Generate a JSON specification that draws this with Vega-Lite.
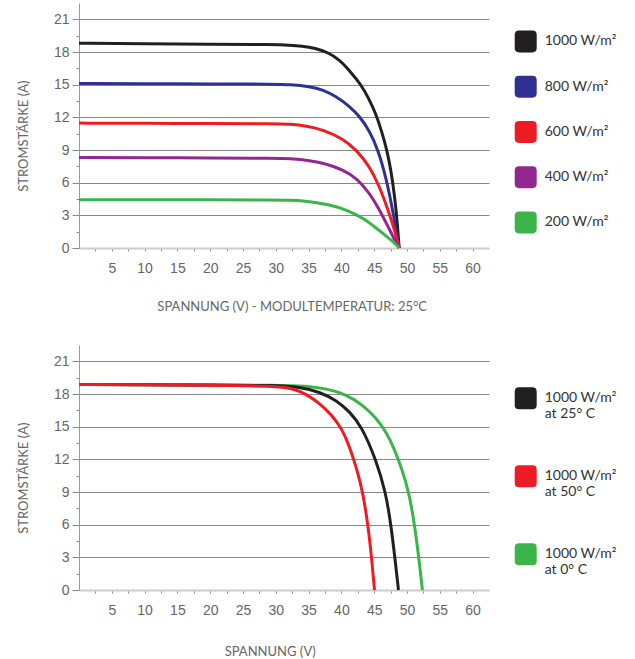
{
  "$schema": "https://vega.github.io/schema/vega-lite/v6.json",
  "padding": {"left": 17, "top": 3, "right": 5, "bottom": 5},
  "spacing": 31,
  "config": {
    "view": {"stroke": null},
    "font": "Lato",
    "axisX": {
      "tickSize": 3, "tickColor": "#888", "labelPadding": 10,
      "labelFont": "Liberation Sans", "labelFontSize": 14, "labelColor": "#666",
      "domainColor": "#cccccc", "domainWidth": 2, "grid": false,
      "titleFont": "Lato", "titleFontSize": 13, "titleFontWeight": "normal", "titleColor": "#666", "titleBaseline": "alphabetic"
    },
    "axisY": {
      "tickColor": "#888", "labelPadding": 3,
      "labelFont": "Liberation Sans", "labelFontSize": 14, "labelColor": "#666",
      "domainColor": "#999", "domainWidth": 1, "grid": true, "gridColor": "#888",
      "titleFont": "Lato", "titleFontSize": 13, "titleFontWeight": "normal", "titleColor": "#666",
      "titleX": -56, "titleY": 132.7, "titleBaseline": "middle"
    }
  },
  "resolve": {"scale": {"color": "independent"}},
  "vconcat": [
    {
      "name": "top",
      "width": 410,
      "height": 245,
      "data": {"values": [
        {"s": "1000 W/m²", "V": 0, "I": 18.8}, {"s": "1000 W/m²", "V": 10, "I": 18.76}, {"s": "1000 W/m²", "V": 20, "I": 18.72}, {"s": "1000 W/m²", "V": 30, "I": 18.68}, {"s": "1000 W/m²", "V": 32, "I": 18.63}, {"s": "1000 W/m²", "V": 34, "I": 18.55}, {"s": "1000 W/m²", "V": 36, "I": 18.36}, {"s": "1000 W/m²", "V": 38, "I": 17.95}, {"s": "1000 W/m²", "V": 39.7, "I": 17.3}, {"s": "1000 W/m²", "V": 41.3, "I": 16.25}, {"s": "1000 W/m²", "V": 43.0, "I": 15.0}, {"s": "1000 W/m²", "V": 44.2, "I": 13.7}, {"s": "1000 W/m²", "V": 45.2, "I": 12.4}, {"s": "1000 W/m²", "V": 46.1, "I": 10.8}, {"s": "1000 W/m²", "V": 46.9, "I": 9.1}, {"s": "1000 W/m²", "V": 47.6, "I": 7.0}, {"s": "1000 W/m²", "V": 48.1, "I": 4.8}, {"s": "1000 W/m²", "V": 48.5, "I": 2.5}, {"s": "1000 W/m²", "V": 48.8, "I": 0},
        {"s": "800 W/m²", "V": 0, "I": 15.1}, {"s": "800 W/m²", "V": 10, "I": 15.08}, {"s": "800 W/m²", "V": 20, "I": 15.07}, {"s": "800 W/m²", "V": 30, "I": 15.05}, {"s": "800 W/m²", "V": 32.1, "I": 15.02}, {"s": "800 W/m²", "V": 35.2, "I": 14.83}, {"s": "800 W/m²", "V": 37.2, "I": 14.52}, {"s": "800 W/m²", "V": 39.2, "I": 13.91}, {"s": "800 W/m²", "V": 41.3, "I": 12.99}, {"s": "800 W/m²", "V": 42.8, "I": 12.07}, {"s": "800 W/m²", "V": 44.3, "I": 10.75}, {"s": "800 W/m²", "V": 45.6, "I": 9.02}, {"s": "800 W/m²", "V": 46.9, "I": 6.27}, {"s": "800 W/m²", "V": 47.9, "I": 3.21}, {"s": "800 W/m²", "V": 48.8, "I": 0},
        {"s": "600 W/m²", "V": 0, "I": 11.47}, {"s": "600 W/m²", "V": 10, "I": 11.45}, {"s": "600 W/m²", "V": 20, "I": 11.44}, {"s": "600 W/m²", "V": 30, "I": 11.42}, {"s": "600 W/m²", "V": 32.1, "I": 11.38}, {"s": "600 W/m²", "V": 34.7, "I": 11.2}, {"s": "600 W/m²", "V": 37.2, "I": 10.85}, {"s": "600 W/m²", "V": 40.2, "I": 10.05}, {"s": "600 W/m²", "V": 42.3, "I": 9.0}, {"s": "600 W/m²", "V": 44.3, "I": 7.49}, {"s": "600 W/m²", "V": 45.8, "I": 5.65}, {"s": "600 W/m²", "V": 47.1, "I": 3.51}, {"s": "600 W/m²", "V": 48.1, "I": 1.68}, {"s": "600 W/m²", "V": 48.8, "I": 0},
        {"s": "400 W/m²", "V": 0, "I": 8.31}, {"s": "400 W/m²", "V": 10, "I": 8.29}, {"s": "400 W/m²", "V": 20, "I": 8.27}, {"s": "400 W/m²", "V": 30, "I": 8.25}, {"s": "400 W/m²", "V": 32.1, "I": 8.22}, {"s": "400 W/m²", "V": 35.2, "I": 8.04}, {"s": "400 W/m²", "V": 37.7, "I": 7.73}, {"s": "400 W/m²", "V": 40.2, "I": 7.18}, {"s": "400 W/m²", "V": 42.3, "I": 6.42}, {"s": "400 W/m²", "V": 44.3, "I": 5.05}, {"s": "400 W/m²", "V": 45.8, "I": 3.51}, {"s": "400 W/m²", "V": 47.1, "I": 1.98}, {"s": "400 W/m²", "V": 48.1, "I": 0.76}, {"s": "400 W/m²", "V": 48.8, "I": 0},
        {"s": "200 W/m²", "V": 0, "I": 4.43}, {"s": "200 W/m²", "V": 10, "I": 4.43}, {"s": "200 W/m²", "V": 20, "I": 4.42}, {"s": "200 W/m²", "V": 30, "I": 4.42}, {"s": "200 W/m²", "V": 32.1, "I": 4.4}, {"s": "200 W/m²", "V": 35.2, "I": 4.28}, {"s": "200 W/m²", "V": 38.2, "I": 3.97}, {"s": "200 W/m²", "V": 40.8, "I": 3.51}, {"s": "200 W/m²", "V": 43.3, "I": 2.75}, {"s": "200 W/m²", "V": 45.3, "I": 1.83}, {"s": "200 W/m²", "V": 46.9, "I": 1.06}, {"s": "200 W/m²", "V": 48.1, "I": 0.46}, {"s": "200 W/m²", "V": 48.8, "I": 0}
      ]},
      "mark": {"type": "line", "interpolate": "basis", "strokeWidth": 3},
      "encoding": {
        "x": {"field": "V", "type": "quantitative", "scale": {"domain": [0, 62.5], "nice": false, "zero": false},
          "axis": {"title": "SPANNUNG (V) - MODULTEMPERATUR: 25°C", "titleX": 212.7, "titleY": 62.7,
            "values": [2.5, 5, 7.5, 10, 12.5, 15, 17.5, 20, 22.5, 25, 27.5, 30, 32.5, 35, 37.5, 40, 42.5, 45, 47.5, 50, 52.5, 55, 57.5, 60],
            "labelExpr": "datum.value % 5 === 0 ? datum.label : ''"}},
        "y": {"field": "I", "type": "quantitative", "scale": {"domain": [0, 22.5], "nice": false},
          "axis": {"title": "STROMSTÄRKE (A)",
            "values": [0, 1.5, 3, 4.5, 6, 7.5, 9, 10.5, 12, 13.5, 15, 16.5, 18, 19.5, 21],
            "labelExpr": "datum.value % 3 === 0 ? datum.label : ''",
            "tickSize": {"condition": {"test": "datum.value % 3 === 0", "value": 7}, "value": 3},
            "gridOpacity": {"condition": {"test": "datum.value % 3 === 0 && datum.value > 0", "value": 1}, "value": 0}}},
        "color": {"field": "s", "type": "nominal",
          "scale": {"domain": ["1000 W/m²", "800 W/m²", "600 W/m²", "400 W/m²", "200 W/m²"], "range": ["#231f20", "#2e3192", "#ed1c24", "#92278f", "#39b54a"]},
          "legend": {"title": null, "orient": "none", "legendX": 435.7, "legendY": 27.4, "padding": 0,
            "symbolType": "M -1 -0.6 Q -1 -1 -0.6 -1 L 0.6 -1 Q 1 -1 1 -0.6 L 1 0.6 Q 1 1 0.6 1 L -0.6 1 Q -1 1 -1 0.6 Z",
            "symbolSize": 484, "symbolStrokeWidth": 0, "rowPadding": 23.25, "labelFont": "Lato", "labelFontSize": 14, "labelColor": "#333", "labelOffset": 8,
            "encode": {"symbols": {"update": {"fill": {"scale": "top_color", "field": "value"}, "fillOpacity": {"value": 1}, "strokeWidth": {"value": 0}}}}}
        }
      }
    },
    {
      "name": "bottom",
      "width": 410,
      "height": 245,
      "data": {"values": [
        {"s": "1000 W/m²|at 0° C", "V": 0, "I": 18.87}, {"s": "1000 W/m²|at 0° C", "V": 10, "I": 18.85}, {"s": "1000 W/m²|at 0° C", "V": 20, "I": 18.83}, {"s": "1000 W/m²|at 0° C", "V": 30, "I": 18.82}, {"s": "1000 W/m²|at 0° C", "V": 34.7, "I": 18.74}, {"s": "1000 W/m²|at 0° C", "V": 37.7, "I": 18.5}, {"s": "1000 W/m²|at 0° C", "V": 40.8, "I": 17.95}, {"s": "1000 W/m²|at 0° C", "V": 43.3, "I": 16.97}, {"s": "1000 W/m²|at 0° C", "V": 45.3, "I": 15.8}, {"s": "1000 W/m²|at 0° C", "V": 46.9, "I": 14.45}, {"s": "1000 W/m²|at 0° C", "V": 48.1, "I": 12.9}, {"s": "1000 W/m²|at 0° C", "V": 49.1, "I": 11.33}, {"s": "1000 W/m²|at 0° C", "V": 50.3, "I": 9.0}, {"s": "1000 W/m²|at 0° C", "V": 51.15, "I": 6.0}, {"s": "1000 W/m²|at 0° C", "V": 51.8, "I": 3.0}, {"s": "1000 W/m²|at 0° C", "V": 52.35, "I": 0},
        {"s": "1000 W/m²|at 25° C", "V": 0, "I": 18.87}, {"s": "1000 W/m²|at 25° C", "V": 10, "I": 18.85}, {"s": "1000 W/m²|at 25° C", "V": 20, "I": 18.82}, {"s": "1000 W/m²|at 25° C", "V": 30, "I": 18.79}, {"s": "1000 W/m²|at 25° C", "V": 33.6, "I": 18.65}, {"s": "1000 W/m²|at 25° C", "V": 36.7, "I": 18.19}, {"s": "1000 W/m²|at 25° C", "V": 39.2, "I": 17.43}, {"s": "1000 W/m²|at 25° C", "V": 41.3, "I": 16.36}, {"s": "1000 W/m²|at 25° C", "V": 43.1, "I": 15.0}, {"s": "1000 W/m²|at 25° C", "V": 45.25, "I": 12.0}, {"s": "1000 W/m²|at 25° C", "V": 46.75, "I": 9.0}, {"s": "1000 W/m²|at 25° C", "V": 47.55, "I": 6.0}, {"s": "1000 W/m²|at 25° C", "V": 48.15, "I": 3.0}, {"s": "1000 W/m²|at 25° C", "V": 48.7, "I": 0},
        {"s": "1000 W/m²|at 50° C", "V": 0, "I": 18.87}, {"s": "1000 W/m²|at 50° C", "V": 10, "I": 18.84}, {"s": "1000 W/m²|at 50° C", "V": 20, "I": 18.8}, {"s": "1000 W/m²|at 50° C", "V": 30, "I": 18.74}, {"s": "1000 W/m²|at 50° C", "V": 32.6, "I": 18.5}, {"s": "1000 W/m²|at 50° C", "V": 34.7, "I": 17.98}, {"s": "1000 W/m²|at 50° C", "V": 36.7, "I": 17.13}, {"s": "1000 W/m²|at 50° C", "V": 38.5, "I": 16.1}, {"s": "1000 W/m²|at 50° C", "V": 40.1, "I": 14.8}, {"s": "1000 W/m²|at 50° C", "V": 41.2, "I": 13.2}, {"s": "1000 W/m²|at 50° C", "V": 41.85, "I": 12.0}, {"s": "1000 W/m²|at 50° C", "V": 42.4, "I": 11.0}, {"s": "1000 W/m²|at 50° C", "V": 43.25, "I": 9.0}, {"s": "1000 W/m²|at 50° C", "V": 44.05, "I": 6.0}, {"s": "1000 W/m²|at 50° C", "V": 44.6, "I": 3.0}, {"s": "1000 W/m²|at 50° C", "V": 45.05, "I": 0}
      ]},
      "mark": {"type": "line", "interpolate": "basis", "strokeWidth": 3},
      "encoding": {
        "x": {"field": "V", "type": "quantitative", "scale": {"domain": [0, 62.5], "nice": false, "zero": false},
          "axis": {"title": "SPANNUNG (V)", "titleX": 190.7, "titleY": 65,
            "values": [2.5, 5, 7.5, 10, 12.5, 15, 17.5, 20, 22.5, 25, 27.5, 30, 32.5, 35, 37.5, 40, 42.5, 45, 47.5, 50, 52.5, 55, 57.5, 60],
            "labelExpr": "datum.value % 5 === 0 ? datum.label : ''"}},
        "y": {"field": "I", "type": "quantitative", "scale": {"domain": [0, 22.5], "nice": false},
          "axis": {"title": "STROMSTÄRKE (A)",
            "values": [0, 1.5, 3, 4.5, 6, 7.5, 9, 10.5, 12, 13.5, 15, 16.5, 18, 19.5, 21],
            "labelExpr": "datum.value % 3 === 0 ? datum.label : ''",
            "tickSize": {"condition": {"test": "datum.value % 3 === 0", "value": 7}, "value": 3},
            "gridOpacity": {"condition": {"test": "datum.value % 3 === 0 && datum.value > 0", "value": 1}, "value": 0}}},
        "color": {"field": "s", "type": "nominal",
          "scale": {"domain": ["1000 W/m²|at 25° C", "1000 W/m²|at 50° C", "1000 W/m²|at 0° C"], "range": ["#231f20", "#ed1c24", "#39b54a"]},
          "legend": {"title": null, "orient": "none", "legendX": 435.7, "legendY": 42.3, "padding": 0,
            "labelExpr": "split(datum.label, '|')", "labelLineHeight": 17,
            "symbolType": "M -1 -0.6 Q -1 -1 -0.6 -1 L 0.6 -1 Q 1 -1 1 -0.6 L 1 0.6 Q 1 1 0.6 1 L -0.6 1 Q -1 1 -1 0.6 Z",
            "symbolSize": 484, "symbolStrokeWidth": 0, "rowPadding": 44, "labelFont": "Lato", "labelFontSize": 14, "labelColor": "#333", "labelOffset": 8,
            "encode": {"symbols": {"update": {"fill": {"scale": "bottom_color", "field": "value"}, "fillOpacity": {"value": 1}, "strokeWidth": {"value": 0}}}}}
        }
      }
    }
  ]
}
